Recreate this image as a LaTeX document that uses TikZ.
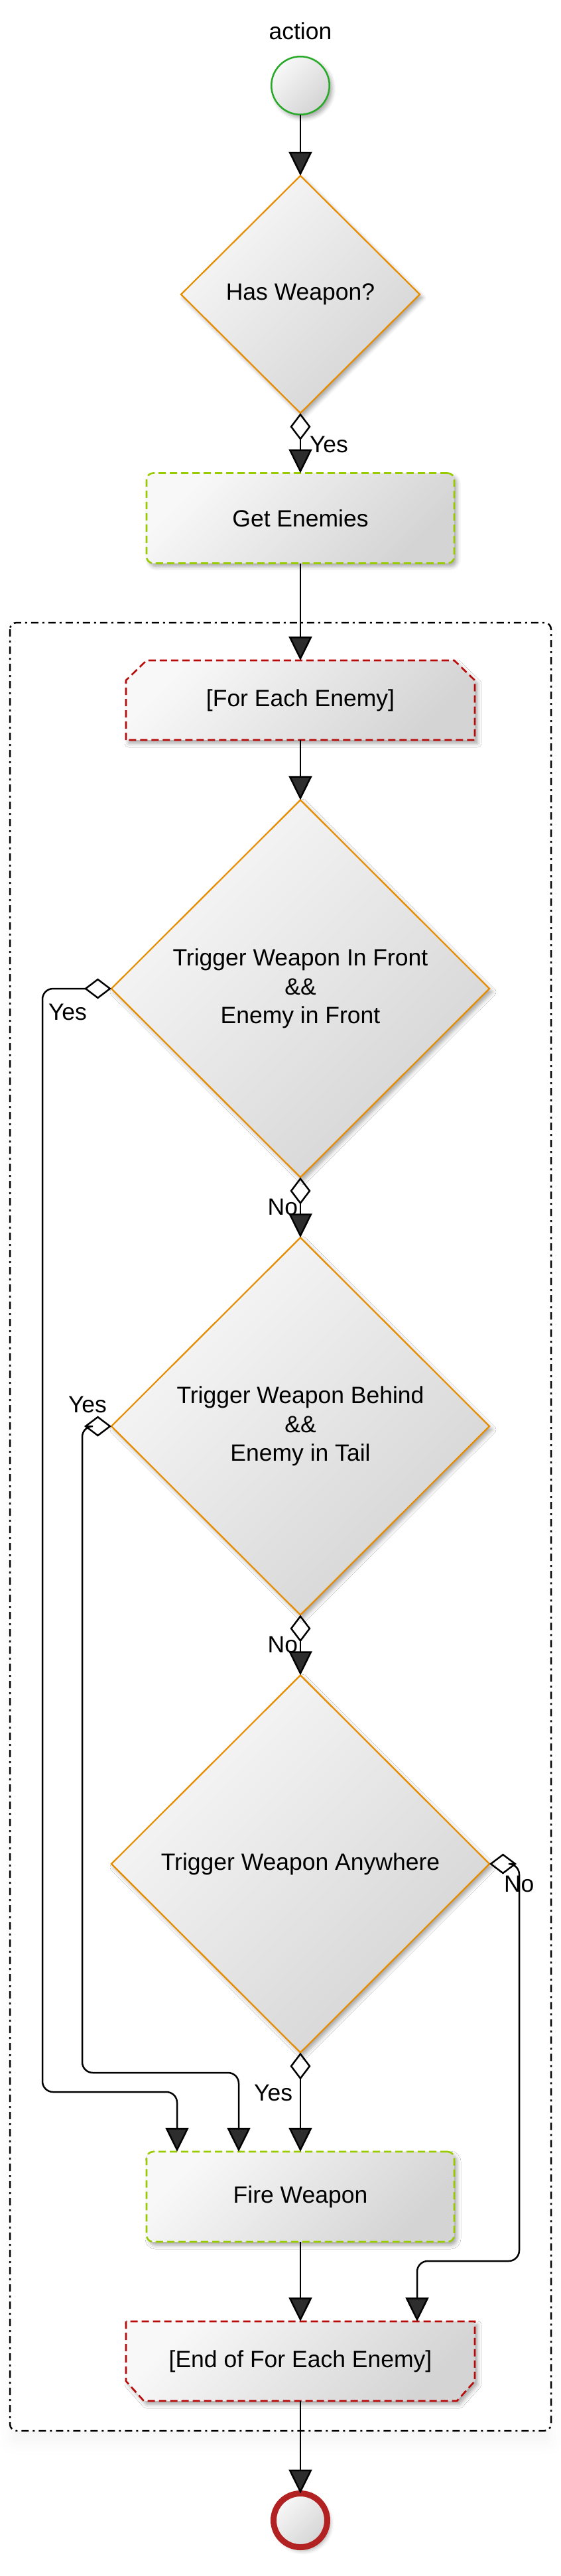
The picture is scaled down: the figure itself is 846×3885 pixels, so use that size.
\documentclass[tikz,border=0pt]{standalone}
\usepackage{fontspec}
\setmainfont{Liberation Sans}
\usetikzlibrary{arrows.meta,shapes.geometric,calc,shadows.blur}
\pgfdeclarelayer{bg}
\pgfsetlayers{bg,main}
\definecolor{dorange}{RGB}{232,140,0}
\definecolor{lgreen}{RGB}{153,204,0}
\definecolor{dred}{RGB}{185,10,10}
\definecolor{sgreen}{RGB}{40,170,40}
\definecolor{fred}{RGB}{178,34,34}
\definecolor{glight}{RGB}{248,248,248}
\definecolor{gdark}{RGB}{212,212,212}
\begin{document}
\begin{tikzpicture}[x=1pt,y=-1pt,
  every node/.style={font=\fontsize{35.5}{43.5}\selectfont, inner sep=0pt, outer sep=0pt},
  gfill/.style={top color=glight, bottom color=gdark, shading angle=45},
  sshadow/.style={blur shadow={shadow xshift=4pt, shadow yshift=-5pt, shadow blur radius=6pt, shadow opacity=35}},
  dec/.style={diamond, aspect=1, draw=dorange, line width=2.2pt, gfill, sshadow, minimum width=570pt, minimum height=569pt, align=center},
  actbox/.style={rectangle, rounded corners=10pt, draw=lgreen, line width=2.6pt, dash pattern=on 11pt off 6pt, gfill, sshadow, minimum width=464pt, minimum height=136pt},
  loopbox/.style={rectangle, minimum width=526pt, minimum height=120pt},
  loopshape/.style={draw=dred, line width=2.6pt, dash pattern=on 11pt off 6pt, gfill, sshadow},
  startc/.style={circle, draw=sgreen, line width=2.5pt, gfill, sshadow, minimum size=87.5pt},
  endc/.style={circle, draw=fred, line width=9pt, gfill, sshadow, minimum size=81pt},
  conn/.style={line width=2.5pt, -{Triangle[length=36pt,width=35pt]}},
  ctail/.style={{Diamond[open,length=41pt,width=31pt]}-{Triangle[length=36pt,width=35pt]}},
  container/.style={draw=black, line width=2.5pt, rounded corners=10pt, dash pattern=on 11pt off 6pt on 3pt off 6pt, fill=white,
    blur shadow={shadow xshift=0pt, shadow yshift=-18pt, shadow blur radius=18pt, shadow opacity=4}},
  lbl/.style={font=\fontsize{35.5}{43.5}\selectfont}
]
\useasboundingbox (0,0) rectangle (846,3885);

% nodes
\node (act) at (453,47) {action};
\node[startc] (st) at (453,129) {};
\node[dec, minimum width=360pt, minimum height=358pt] (d1) at (453,444) {Has Weapon?};
\node[actbox] (ge) at (453,781.5) {Get Enemies};
\node[loopbox] (fe) at (453,1056) {[For Each Enemy]};
\node[dec] (d2) at (453,1491) {Trigger Weapon In Front\\\&\&\\Enemy in Front};
\node[dec] (d3) at (453,2151) {Trigger Weapon Behind\\\&\&\\Enemy in Tail};
\node[dec] (d4) at (453,2811) {Trigger Weapon Anywhere};
\node[actbox] (fw) at (453,3313) {Fire Weapon};
\node[loopbox] (ef) at (453,3561) {[End of For Each Enemy]};
\node[endc] (en) at (453,3801) {};

% background shapes: loop region and loop boundary boxes
\begin{pgfonlayer}{bg}
\path[container] (15,939) rectangle (831,3666);
\path[loopshape] (fe.south west) -- ($(fe.north west)+(0,30)$) -- ($(fe.north west)+(31,0)$)
  -- ($(fe.north east)+(-31,0)$) -- ($(fe.north east)+(0,30)$) -- (fe.south east) -- cycle;
\path[loopshape] (ef.north west) -- ($(ef.south west)+(0,-30)$) -- ($(ef.south west)+(27,0)$)
  -- ($(ef.south east)+(-27,0)$) -- ($(ef.south east)+(0,-30)$) -- (ef.north east) -- cycle;
\end{pgfonlayer}

% helper coordinates
\coordinate (a1) at (64,1491);
\coordinate (a2) at (64,3155);
\coordinate (a3) at (267,3155);
\coordinate (b1) at (124,2151);
\coordinate (b2) at (124,3126);
\coordinate (b3) at (360,3126);
\coordinate (c1) at (783,2811);
\coordinate (c2) at (783,3410);
\coordinate (c3) at (629,3410);

% connectors
\draw[conn] (st) -- (d1);
\draw[conn, ctail] (d1) -- (ge);
\draw[conn] (ge) -- (fe);
\draw[conn] (fe) -- (d2);
\draw[conn, ctail, rounded corners=16pt] (d2.west) -- (a1) -- (a2) -- (a3) -- (a3 |- fw.north);
\draw[conn, ctail] (d2) -- (d3);
\draw[conn, ctail, rounded corners=16pt] (d3.west) -- (b1) -- (b2) -- (b3) -- (b3 |- fw.north);
\draw[conn, ctail] (d3) -- (d4);
\draw[conn, ctail] (d4) -- (fw);
\draw[conn, ctail, rounded corners=16pt] (d4.east) -- (c1) -- (c2) -- (c3) -- (c3 |- ef.north);
\draw[conn] (fw) -- (ef);
\draw[conn] (ef) -- (en);

% labels
\node[anchor=west] (y1) at (467,670) {Yes};
\node[anchor=west] (y2) at (73,1526) {Yes};
\node[anchor=east] (n2) at (449,1820) {No};
\node[anchor=west] (y3) at (103,2118) {Yes};
\node[anchor=east] (n3) at (449,2480) {No};
\node[anchor=east] (y4) at (441,3156) {Yes};
\node[anchor=west] (n4) at (760,2841) {No};
\end{tikzpicture}
\end{document}
